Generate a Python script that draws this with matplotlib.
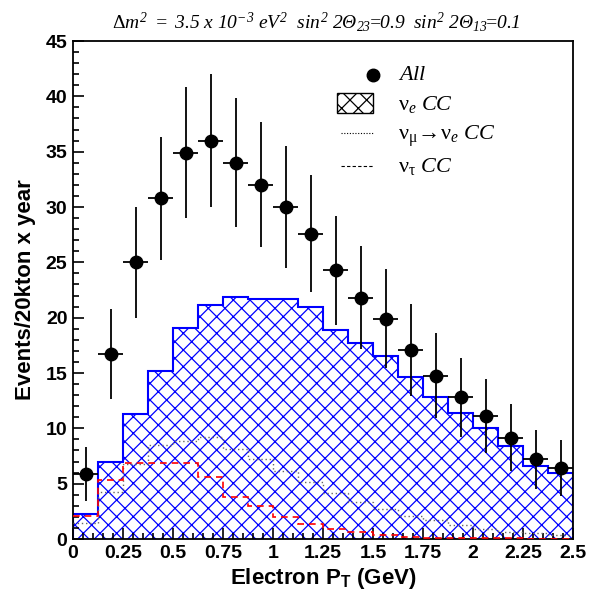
import matplotlib
matplotlib.use('Agg')
import matplotlib.pyplot as plt
from matplotlib.ticker import MultipleLocator, FuncFormatter
import numpy as np

plt.rcParams['font.family'] = ['Liberation Sans', 'DejaVu Sans']
plt.rcParams['mathtext.fontset'] = 'custom'
# ROOT-like text: italic Times everywhere, upright greek via \mathsf
plt.rcParams['mathtext.rm'] = 'Liberation Serif:italic'
plt.rcParams['mathtext.it'] = 'Liberation Serif:italic'
plt.rcParams['mathtext.sf'] = 'Liberation Serif'
plt.rcParams['mathtext.bf'] = 'Liberation Sans:bold'
plt.rcParams['hatch.linewidth'] = 0.9

# binning: 20 bins of 0.125 GeV
edges = np.linspace(0, 2.5, 21)
centers = 0.5 * (edges[:-1] + edges[1:])

# all events (points, poisson errors)
all_ev = [5.9, 16.7, 25.0, 30.8, 34.9, 36.0, 34.0, 32.0, 30.0, 27.6,
          24.3, 21.8, 19.9, 17.1, 14.75, 12.8, 11.1, 9.15, 7.2, 6.4]
# nu_e CC (hatched histogram)
nue_cc = [2.23, 6.98, 11.3, 15.2, 19.1, 21.1, 21.9, 21.65, 21.65, 21.0,
          18.9, 17.7, 16.5, 14.65, 12.85, 11.35, 10.0, 8.4, 6.6, 5.93]
# nu_mu -> nu_e CC (dotted)
numu_nue = [1.48, 4.27, 6.8, 8.45, 8.85, 9.19, 8.15, 7.2, 6.15, 5.18,
            4.2, 3.37, 2.68, 2.08, 1.72, 1.26, 0.87, 0.66, 0.51, 0.36]
# nu_tau CC (dashed)
nutau_cc = [2.1, 5.33, 6.84, 6.9, 6.84, 5.63, 3.82, 2.98, 2.02, 1.36,
            0.93, 0.6, 0.36, 0.15, 0.1, 0.08, 0.06, 0.05, 0.04, 0.03]

fig = plt.figure(figsize=(5.92, 6.01), dpi=100)
ax = fig.add_axes([73 / 592, 1 - 539 / 601, 500 / 592, 498 / 601])

ax.stairs(nue_cc, edges, fill=True, facecolor='white', edgecolor='blue',
          hatch='xx', linewidth=0, zorder=1)
ax.stairs(nue_cc, edges, fill=False, color='blue', linewidth=1.5, zorder=2)
ax.stairs(numu_nue, edges, baseline=None, color='#666666', linestyle=(0, (1, 2)),
          linewidth=1.0, zorder=3)
ax.stairs(nutau_cc, edges, baseline=None, color='red', linestyle=(0, (4, 3)),
          linewidth=1.2, zorder=3)

ax.errorbar(centers, all_ev, yerr=np.sqrt(all_ev), xerr=0.0625, fmt='o',
            color='black', markersize=9, elinewidth=1.3, capsize=0, zorder=5)

ax.set_xlim(0, 2.5)
ax.set_ylim(0, 45)
ax.xaxis.set_major_locator(MultipleLocator(0.25))
ax.xaxis.set_minor_locator(MultipleLocator(0.05))
ax.xaxis.set_major_formatter(FuncFormatter(lambda v, p: '%g' % round(v, 2)))
ax.yaxis.set_major_locator(MultipleLocator(5))
ax.yaxis.set_minor_locator(MultipleLocator(1))
ax.tick_params(which='both', direction='in', top=False, right=False, width=1.2)
ax.tick_params(which='major', length=8)
ax.tick_params(which='minor', length=4)
ax.tick_params(axis='both', labelsize=14, pad=4)
for lab in ax.get_xticklabels() + ax.get_yticklabels():
    lab.set_fontweight('bold')
for sp in ax.spines.values():
    sp.set_linewidth(1.3)

ax.set_xlabel(r'Electron P$_\mathbf{T}$ (GeV)', fontsize=16, fontweight='bold', labelpad=3)
ax.set_ylabel('Events/20kton x year', fontsize=16, fontweight='bold', labelpad=7)

fig.text(316 / 592, 1 - 22 / 601,
         r'$\mathsf{\Delta}m^2\ =\ 3.5\ x\ 10^{-3}\ eV^2\ \ sin^2\ 2\Theta_{23}\!\!=\!\!0.9'
         r'\ \ sin^2\ 2\Theta_{13}\!\!=\!\!0.1$',
         ha='center', va='center', fontsize=14)

# legend
tr = ax.transAxes
ax.plot([0.6], [0.932], 'o', color='black', markersize=9, transform=tr)
ax.add_patch(plt.Rectangle((0.528, 0.855), 0.072, 0.041, transform=tr,
                           facecolor='white', edgecolor='black', hatch='xx', linewidth=1))
ax.plot([0.536, 0.6], [0.816, 0.816], color='black', linestyle=(0, (1, 1.5)),
        linewidth=0.8, transform=tr)
ax.plot([0.536, 0.6], [0.748, 0.748], color='black', linestyle=(0, (3, 2)),
        linewidth=0.8, transform=tr)
leg_kw = dict(transform=tr, fontsize=16, va='center', ha='left')
ax.text(0.65, 0.932, r'$All$', **leg_kw)
ax.text(0.65, 0.872, r'$\mathsf{\nu}_e\ CC$', **leg_kw)
ax.text(0.65, 0.808, r'$\mathsf{\nu}_\mathsf{\mu}\!\rightarrow\!\mathsf{\nu}_e\ CC$', **leg_kw)
ax.text(0.65, 0.748, r'$\mathsf{\nu}_\mathsf{\tau}\ CC$', **leg_kw)

fig.savefig('out.png', dpi=100)
